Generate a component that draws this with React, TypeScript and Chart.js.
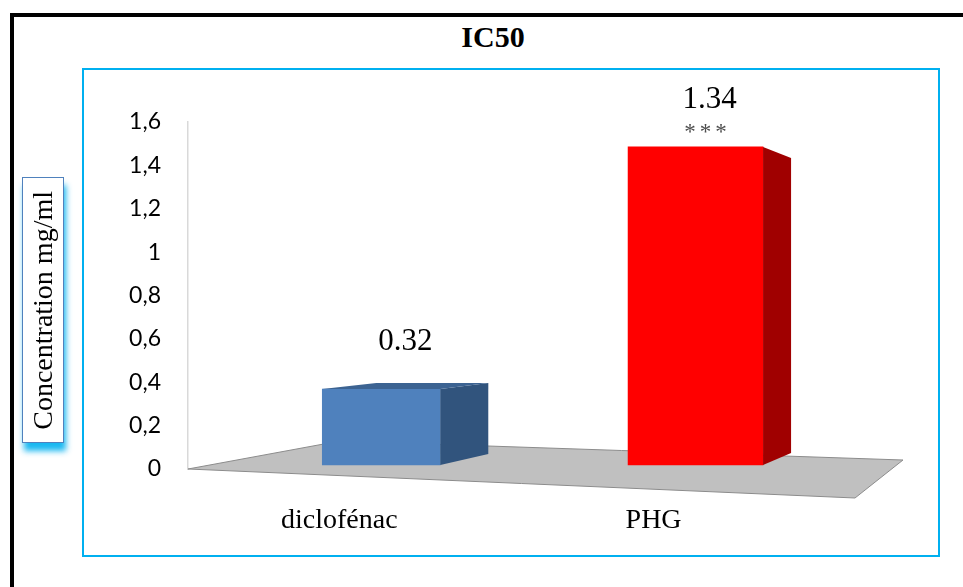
import React, { useEffect, useRef } from "react";
import { Chart, registerables } from "chart.js";

Chart.register(...registerables);

const categories = ["diclofénac", "PHG"];
const values = [0.32, 1.34];
const marks = ["", "***"];

const frontColors = ["#4f81bd", "#ff0000"];
const sideColors = ["#31547d", "#a00000"];
const topColors = ["#3c6392", "#c00000"];
const barWidths = [118, 135];
// perspective of each box: depth to the right, shift of the back top / back bottom edge
const boxDepth = [
  { dx: 48, top: -6, bottom: -11 },
  { dx: 28, top: 11, bottom: -12 },
];

const serif = '"Liberation Serif", "Times New Roman", serif';

const box3d = {
  id: "box3d",
  beforeDatasetsDraw(chart: any) {
    const { ctx, chartArea } = chart;
    const { left, right } = chartArea;
    const z = chart.scales.y.getPixelForValue(0);
    ctx.save();
    ctx.beginPath();
    ctx.moveTo(left, z);
    ctx.lineTo(left + 152, z - 28);
    ctx.lineTo(right, z - 9);
    ctx.lineTo(right - 48, z + 29);
    ctx.closePath();
    ctx.fillStyle = "#c0c0c0";
    ctx.fill();
    ctx.strokeStyle = "#8c8c8c";
    ctx.lineWidth = 1;
    ctx.stroke();
    ctx.restore();
  },
  afterDatasetsDraw(chart: any) {
    const { ctx } = chart;
    chart.data.datasets.forEach((_: any, i: number) => {
      const bar = chart.getDatasetMeta(i).data[0];
      const { x, y, base, width } = bar.getProps(["x", "y", "base", "width"], true);
      const x0 = x - width / 2;
      const x1 = x + width / 2;
      const d = boxDepth[i];
      ctx.save();
      // side
      ctx.beginPath();
      ctx.moveTo(x1, y);
      ctx.lineTo(x1 + d.dx, y + d.top);
      ctx.lineTo(x1 + d.dx, base + d.bottom);
      ctx.lineTo(x1, base);
      ctx.closePath();
      ctx.fillStyle = sideColors[i];
      ctx.fill();
      // top, only when seen from above
      if (d.top < 0) {
        ctx.beginPath();
        ctx.moveTo(x0, y);
        ctx.lineTo(x1, y);
        ctx.lineTo(x1 + d.dx, y + d.top);
        ctx.lineTo(x0 + d.dx + 6, y + d.top);
        ctx.closePath();
        ctx.fillStyle = topColors[i];
        ctx.fill();
      }
      // value labels
      ctx.textAlign = "center";
      ctx.textBaseline = "middle";
      ctx.fillStyle = "#000";
      ctx.font = `31px ${serif}`;
      ctx.fillText(values[i].toFixed(2), x + d.dx / 2, y - 47);
      if (marks[i]) {
        ctx.fillStyle = "#4d4d4d";
        ctx.font = `23px ${serif}`;
        ctx.letterSpacing = "4px";
        ctx.fillText(marks[i], x + d.dx / 2 - 2, y - 14);
      }
      ctx.restore();
    });
  },
};

const App = () => {
  const canvasRef = useRef<HTMLCanvasElement>(null);

  useEffect(() => {
    if (!canvasRef.current) return;
    const chart = new Chart(canvasRef.current, {
      type: "bar",
      data: {
        datasets: categories.map((c, i) => ({
          label: c,
          data: [{ x: i, y: values[i] }],
          backgroundColor: frontColors[i],
          borderWidth: 0,
          barThickness: barWidths[i],
          grouped: false,
          yAxisID: "yf",
        })),
      },
      options: {
        responsive: false,
        animation: false,
        layout: { padding: { left: 108, right: 60, top: 122, bottom: 38 } },
        plugins: {
          legend: { display: false },
          tooltip: { enabled: false },
        },
        scales: {
          x: {
            type: "linear",
            offset: false,
            min: -0.615,
            max: 1.66,
            grid: { display: false },
            border: { display: false },
            afterBuildTicks: (axis: any) => {
              axis.ticks = categories.map((_, i) => ({ value: i }));
            },
            afterFit: (scale: any) => {
              scale.height = 80;
            },
            ticks: {
              callback: (v: any) => categories[v] ?? "",
              labelOffset: -42,
              padding: 27,
              color: "#000",
              font: { family: serif, size: 28 },
              maxRotation: 0,
              autoSkip: false,
            },
          },
          y: {
            position: "left",
            min: 0,
            max: 1.6,
            grid: { color: "transparent", drawTicks: false },
            border: { color: "#d9d9d9", width: 1.5 },
            afterFit: (scale: any) => {
              scale.width = 80;
            },
            ticks: {
              stepSize: 0.2,
              padding: 27,
              color: "#000",
              font: { family: "Lato", size: 23 },
              callback: (v: any) => String(Math.round(Number(v) * 10) / 10).replace(".", ","),
            },
          },
          // front plane of the 3D boxes, drawn closer so it reads a bit larger than the back wall
          yf: {
            type: "linear",
            display: false,
            min: -0.017,
            max: 1.445,
          },
        },
      },
      plugins: [box3d],
    } as any);
    return () => {
      chart.destroy();
    };
  }, []);

  return (
    <div
      style={{
        position: "fixed",
        left: 0,
        top: 0,
        width: 963,
        height: 587,
        overflow: "hidden",
        background: "#fff",
      }}
    >
      <div
        style={{
          position: "absolute",
          left: 10,
          top: 13,
          width: 1200,
          height: 800,
          borderTop: "4px solid #000",
          borderLeft: "4px solid #000",
        }}
      />
      <div
        style={{
          position: "absolute",
          left: 82,
          top: 68,
          width: 858,
          height: 489,
          border: "2px solid #00b0f0",
          boxSizing: "border-box",
        }}
      />
      <div
        style={{
          position: "absolute",
          left: 0,
          top: 21,
          width: 986,
          textAlign: "center",
          font: `bold 30px ${serif}`,
          lineHeight: "32px",
        }}
      >
        IC50
      </div>
      <canvas
        ref={canvasRef}
        width={963}
        height={587}
        style={{ position: "absolute", left: 0, top: 0 }}
      />
      <div
        style={{
          position: "absolute",
          left: 22,
          top: 177,
          width: 42,
          height: 266,
          boxSizing: "border-box",
          border: "1px solid #4f81bd",
          background: "#fff",
          boxShadow: "2px 8px 6px rgba(0,176,240,0.9)",
          display: "flex",
          alignItems: "center",
          justifyContent: "center",
        }}
      >
        <span
          style={{
            writingMode: "vertical-rl",
            transform: "rotate(180deg)",
            font: `28px ${serif}`,
            whiteSpace: "nowrap",
          }}
        >
          Concentration mg/ml
        </span>
      </div>
    </div>
  );
};

export default App;
